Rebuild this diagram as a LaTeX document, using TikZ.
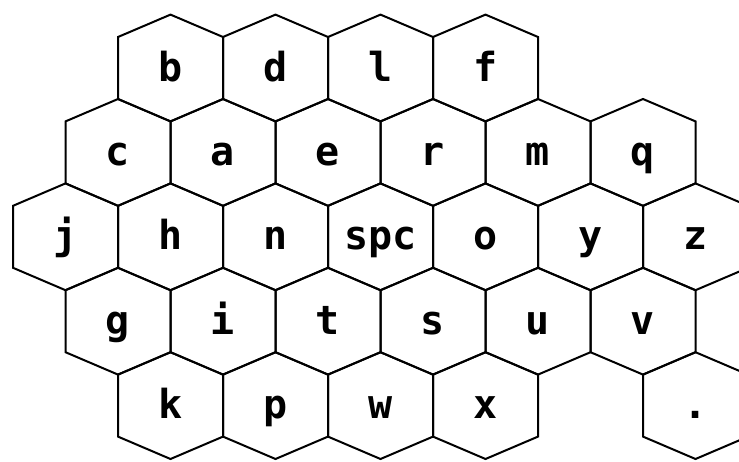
\documentclass[tikz,border=0pt]{standalone}
\usepackage{fontspec}
\newfontfamily\keyfont{DejaVu Sans Mono}
\begin{document}
\begin{tikzpicture}[x=1pt,y=-1pt,
  hexcell/.style={draw=black, line width=2pt, line join=miter},
  keylabel/.style={font=\keyfont\bfseries\fontsize{40}{40}\selectfont, anchor=base, inner sep=0pt}]
\useasboundingbox (0,0) rectangle (739,461);
\clip (0,0) rectangle (739,461);
\foreach \cx/\cy/\nm/\txt in {
  170.5/68/kb/b, 275.5/68/kd/d, 380.5/68/kl/l, 485.5/68/kf/f,
  118/152.4/kc/c, 223/152.4/ka/a, 328/152.4/ke/e, 433/152.4/kr/r, 538/152.4/km/m, 643/152.4/kq/q,
  65.5/236.8/kj/j, 170.5/236.8/kh/h, 275.5/236.8/kn/n, 380.5/236.8/kspc/spc, 485.5/236.8/ko/o, 590.5/236.8/ky/y, 695.5/236.8/kz/z,
  118/321.2/kg/g, 223/321.2/ki/i, 328/321.2/kt/t, 433/321.2/ks/s, 538/321.2/ku/u, 643/321.2/kv/v,
  170.5/405.6/kk/k, 275.5/405.6/kp/p, 380.5/405.6/kw/w, 485.5/405.6/kx/x, 695.5/405.6/kdot/.}
{
  \node[keylabel] (\nm) at (\cx,{\cy+13}) {\txt};
  \draw[hexcell] (\cx,\cy) ++(0,-53.4) -- ++(52.5,22.4) -- ++(0,62) -- ++(-52.5,22.4) -- ++(-52.5,-22.4) -- ++(0,-62) -- cycle;
}
\end{tikzpicture}
\end{document}
